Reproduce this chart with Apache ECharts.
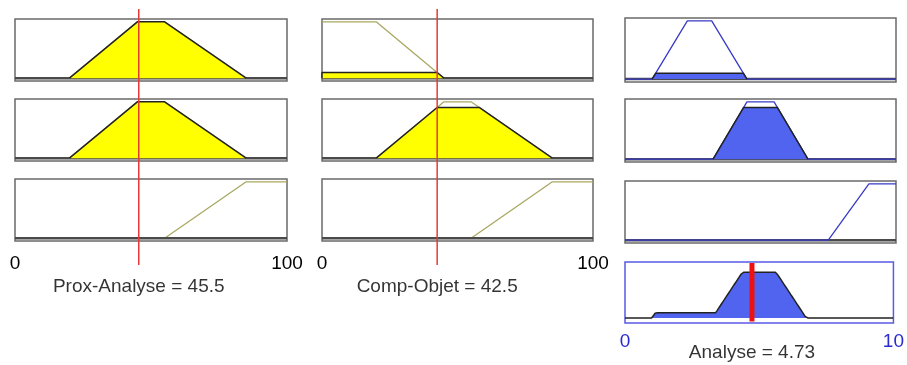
<!DOCTYPE html>
<html><head><meta charset="utf-8">
<script src="https://cdn.jsdelivr.net/npm/echarts@6/dist/echarts.min.js"></script>
<style>html,body{margin:0;padding:0;background:#fff}#c{width:907px;height:365px}</style>
</head><body><div id="c"></div>
<script>
// ---- data ----
const inputNames = ['Prox-Analyse', 'Comp-Objet'];
const inputValues = [45.5, 42.5];
const outputName = 'Analyse';
const outputValue = 4.73;
const inputRange = [0, 100];
const outputRange = [0, 10];
const inputTickLabels = ['0', '100'];
const outputTickLabels = ['0', '10'];
const proxMFs = [[20, 45, 55, 85], [20, 45, 55, 85], [55, 85, 100, 100]];
const compMFs = [[0, 0, 20, 45], [20, 45, 55, 85], [55, 85, 100, 100]];
const analyseMFs = [[1, 2.3, 3.2, 4.5], [3.25, 4.5, 5.5, 6.75], [7.5, 9, 10, 10]];
const rules = [[0, 0, 0], [1, 1, 1], [2, 2, 2]]; // prox mf, comp mf, output mf

// ---- helpers ----
function mu(x, m) {
  const [a, b, c, d] = m;
  if (x < a || x > d) return 0;
  if (x < b) return (x - a) / (b - a);
  if (x <= c) return 1;
  return d === c ? 1 : (d - x) / (d - c);
}
function mfLine(m, lo, hi) {
  const [a, b, c, d] = m, p = [];
  if (a > lo) p.push([lo, 0]);
  p.push([a, a === b ? 1 : 0]); p.push([b, 1]); p.push([c, 1]);
  p.push([d, c === d ? 1 : 0]);
  if (d < hi) p.push([hi, 0]);
  return p;
}
function clipPoly(m, h) {
  const [a, b, c, d] = m;
  return [[a, 0], [a + h * (b - a), h], [d - h * (d - c), h], [d, 0]];
}

const FONT = "'Liberation Sans', Arial, sans-serif";
const YELLOW = '#ffff00', OLIVE = '#a9a862', EDGE = '#222222';
const BLUE = '#5064f0', BLUE_LINE = '#3a3ac8', BOXGRAY = '#6a6a6a';

const grids = [], xAxes = [], yAxes = [], series = [];
function addGrid(g, range, ymin, ymax, xAxisExtra) {
  const i = grids.length;
  grids.push(Object.assign({ show: true, backgroundColor: '#fff', borderColor: BOXGRAY, borderWidth: 1.5 }, g));
  xAxes.push(Object.assign({ type: 'value', gridIndex: i, min: range[0], max: range[1], show: false, splitLine: { show: false } }, xAxisExtra || {}));
  yAxes.push({ type: 'value', gridIndex: i, min: ymin, max: ymax, show: false, splitLine: { show: false } });
  return i;
}
function line(i, data, color, width, z, area) {
  const s = { type: 'line', xAxisIndex: i, yAxisIndex: i, data: data, symbol: 'none', silent: true,
    lineStyle: { color: color, width: width }, z: z, animation: false };
  if (area) s.areaStyle = { color: area, opacity: 1 };
  return s;
}

const colLefts = [15, 322, 625], colWidths = [272, 271, 271];
const inRowTops = [19, 99, 179], inRowH = 62;
const outRowTops = [18, 99, 181], outRowH = [64, 63, 62];

const inMFs = [proxMFs, compMFs];
const degrees = [[], []];
for (let c = 0; c < 2; c++) {
  for (let r = 0; r < 3; r++) {
    const last = r === 2;
    const gi = addGrid({ left: colLefts[c], top: inRowTops[r], width: colWidths[c], height: inRowH, show: true },
      inputRange, -0.05, 1.05,
      last ? { show: true, interval: inputRange[1] - inputRange[0], axisLine: { show: false }, axisTick: { show: false },
        axisLabel: { margin: 13, color: '#000', fontSize: 19, fontFamily: FONT,
          formatter: v => inputTickLabels[v === inputRange[0] ? 0 : 1] } } : null);
    const m = inMFs[c][rules[r][c]];
    series.push(line(gi, mfLine(m, inputRange[0], inputRange[1]), OLIVE, 1.3, 1));
    series.push(line(gi, [[inputRange[0], 0], [inputRange[1], 0]], '#4a4a4a', 2.5, 2));
    const h = mu(inputValues[c], m);
    degrees[c].push(h);
    if (h > 0) series.push(line(gi, clipPoly(m, h), EDGE, 1.5, 3, YELLOW));
  }
  // red line + title
  const ri = addGrid({ left: colLefts[c], top: 9, width: colWidths[c], height: 256, show: false, backgroundColor: 'transparent', borderWidth: 0 },
    inputRange, 0, 1);
  series.push(line(ri, [[inputValues[c], 0], [inputValues[c], 1]], '#e53935', 1.5, 10));
  series.push({ type: 'scatter', xAxisIndex: ri, yAxisIndex: ri, data: [[inputValues[c], 0]], symbolSize: 1,
    itemStyle: { color: 'rgba(0,0,0,0)' }, silent: true, animation: false, z: 10,
    label: { show: true, position: 'bottom', distance: 12, color: '#000', fontSize: 19, fontFamily: FONT,
      formatter: inputNames[c] + ' = ' + inputValues[c] } });
}

// output rows
const strengths = rules.map(r => Math.min(degrees[0][r[0]], degrees[1][r[1]]));
for (let r = 0; r < 3; r++) {
  const gi = addGrid({ left: colLefts[2], top: outRowTops[r], width: colWidths[2], height: outRowH[r] },
    outputRange, -0.05, 1.05);
  const m = analyseMFs[rules[r][2]];
  series.push(line(gi, [[outputRange[0], 0], [outputRange[1], 0]], '#4a4a4a', 2.5, 1));
  series.push(line(gi, mfLine(m, outputRange[0], outputRange[1]), BLUE_LINE, 1.3, 2));
  const h = strengths[r];
  if (h > 0) series.push(line(gi, clipPoly(m, h), EDGE, 1.5, 3, BLUE));
}
// aggregate
const ag = addGrid({ left: colLefts[2], top: 262, width: colWidths[2], height: 61, borderColor: '#5a5ae6', borderWidth: 1.5 },
  outputRange, -0.1, 1.1,
  { show: true, interval: outputRange[1] - outputRange[0], axisLine: { show: false }, axisTick: { show: false },
    axisLabel: { margin: 9, color: '#2a2ad0', fontSize: 19, fontFamily: FONT,
      formatter: v => outputTickLabels[v === outputRange[0] ? 0 : 1] } });
const aggData = [];
for (let k = 0; k <= 1000; k++) {
  const x = outputRange[0] + (outputRange[1] - outputRange[0]) * k / 1000;
  let y = 0;
  rules.forEach((r, idx) => { y = Math.max(y, Math.min(strengths[idx], mu(x, analyseMFs[r[2]]))); });
  aggData.push([x, y]);
}
series.push(line(ag, aggData, EDGE, 1.5, 3, BLUE));
series.push(line(ag, [[outputValue, -0.07], [outputValue, 1.08]], '#ee1111', 5, 10));
series.push({ type: 'scatter', xAxisIndex: ag, yAxisIndex: ag, data: [[outputValue, -0.1]], symbolSize: 1,
  itemStyle: { color: 'rgba(0,0,0,0)' }, silent: true, animation: false, z: 10,
  label: { show: true, position: 'bottom', distance: 20, color: '#000', fontSize: 19, fontFamily: FONT,
    formatter: outputName + ' = ' + outputValue } });

const chart = echarts.init(document.getElementById('c'), null, { renderer: 'canvas' });
chart.setOption({ animation: false, grid: grids, xAxis: xAxes, yAxis: yAxes, series: series });
</script></body></html>
